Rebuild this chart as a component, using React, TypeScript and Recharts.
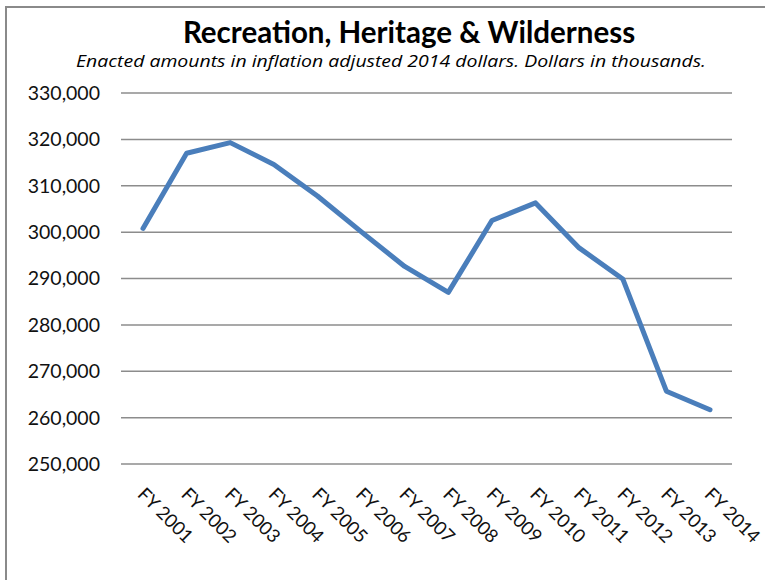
import React from 'react';
import { LineChart, Line, XAxis, YAxis, CartesianGrid } from 'recharts';

// fiscal years on the category axis
const years: string[] = [
  'FY 2001', 'FY 2002', 'FY 2003', 'FY 2004', 'FY 2005', 'FY 2006', 'FY 2007',
  'FY 2008', 'FY 2009', 'FY 2010', 'FY 2011', 'FY 2012', 'FY 2013', 'FY 2014',
];

// enacted amounts, thousands of 2014 dollars
const amounts: number[] = [
  300800, 317000, 319300, 314600, 307800, 300100, 292600,
  287000, 302500, 306300, 296600, 289900, 265700, 261700,
];

const yTicks: number[] = [250000, 260000, 270000, 280000, 290000, 300000, 310000, 320000, 330000];

const data = years.map((year, i) => ({ year, amount: amounts[i] }));

const FONT = 'Lato, "Open Sans", sans-serif';

const XTick = (props: any) => {
  const { x, y, payload } = props;
  return (
    <text
      transform={`translate(${x + 3},${y + 22}) rotate(45)`}
      textAnchor="start"
      dy="0.72em"
      fontFamily={FONT}
      fontSize={18.5}
      fill="#111"
    >
      {payload.value}
    </text>
  );
};

const App: React.FC = () => {
  return (
    <div
      style={{
        position: 'absolute',
        left: 0,
        top: 0,
        width: 765,
        height: 580,
        background: '#fff',
        overflow: 'hidden',
      }}
    >
      {/* chart frame, cut off on the right and bottom */}
      <div
        style={{
          position: 'absolute',
          left: 5,
          top: 6,
          width: 820,
          height: 640,
          borderLeft: '2px solid #8a8a8a',
          borderTop: '2px solid #8a8a8a',
        }}
      />

      {/* titles */}
      <svg width={765} height={90} style={{ position: 'absolute', left: 0, top: 0 }}>
        <text x={409} y={43} textAnchor="middle" fontFamily={FONT} fontWeight={700} fontSize={29.5} fill="#000">
          Recreation, Heritage &amp; Wilderness
        </text>
        <text
          x={391}
          y={67}
          textAnchor="middle"
          fontFamily='"Open Sans", sans-serif'
          fontStyle="italic"
          fontSize={16.5}
          textLength={630}
          lengthAdjust="spacingAndGlyphs"
          fill="#000"
        >
          Enacted amounts in inflation adjusted 2014 dollars. Dollars in thousands.
        </text>
      </svg>

      <div style={{ position: 'absolute', left: 0, top: 0 }}>
        <LineChart width={765} height={580} data={data} margin={{ top: 93, right: 33, bottom: 0, left: 0 }}>
          <CartesianGrid vertical={false} stroke="#8c8c8c" strokeWidth={1.5} />
          <XAxis
            dataKey="year"
            interval={0}
            padding={{ left: 22, right: 22 }}
            axisLine={false}
            tickLine={false}
            tickSize={0}
            tickMargin={0}
            height={116}
            tick={<XTick />}
          />
          <YAxis
            type="number"
            domain={[250000, 330000]}
            ticks={yTicks}
            width={121}
            axisLine={false}
            tickLine={false}
            tickSize={0}
            tickMargin={21}
            tickFormatter={(v: number) => v.toLocaleString('en-US')}
            tick={{ fontFamily: FONT, fontSize: 19.5, fill: '#111' }}
          />
          <Line
            type="linear"
            dataKey="amount"
            stroke="#4a7ebb"
            strokeWidth={5}
            strokeLinecap="round"
            strokeLinejoin="round"
            dot={false}
            isAnimationActive={false}
          />
        </LineChart>
      </div>
    </div>
  );
};

export default App;
